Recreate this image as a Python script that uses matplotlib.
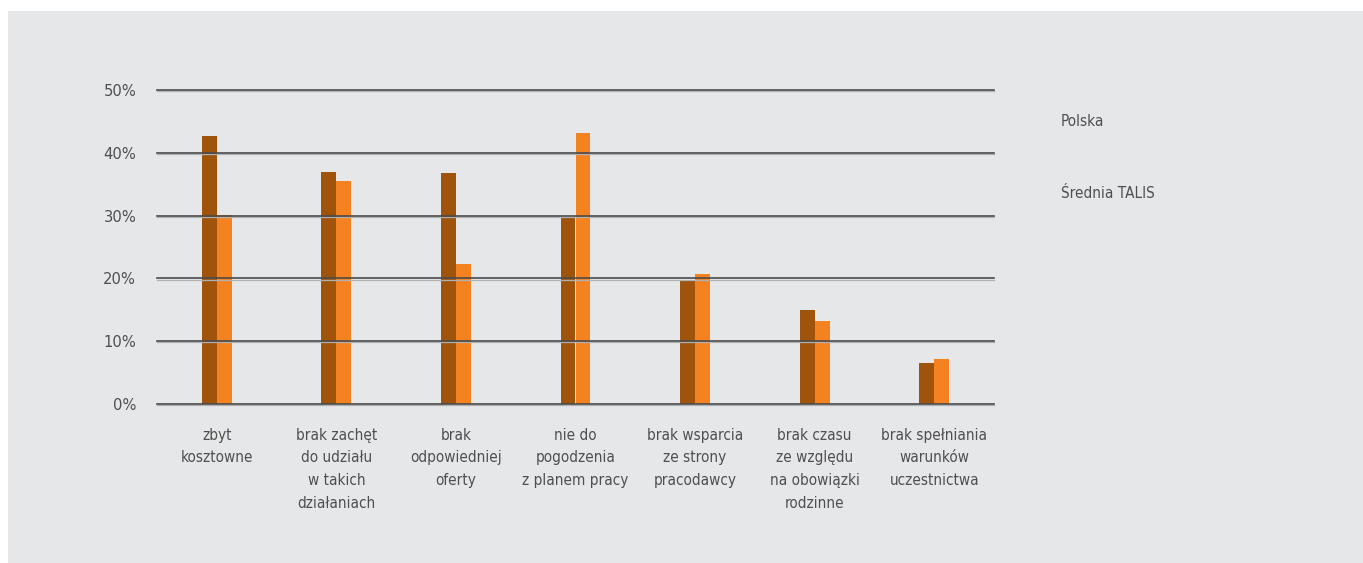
import matplotlib
matplotlib.use("Agg")
import matplotlib.pyplot as plt
from matplotlib import font_manager
from matplotlib.patches import Rectangle

categories = [
    "zbyt\nkosztowne",
    "brak zachęt\ndo udziału\nw takich\ndziałaniach",
    "brak\nodpowiedniej\noferty",
    "nie do\npogodzenia\nz planem pracy",
    "brak wsparcia\nze strony\npracodawcy",
    "brak czasu\nze względu\nna obowiązki\nrodzinne",
    "brak spełniania\nwarunków\nuczestnictwa",
]
series_names = ["Polska", "Średnia TALIS"]
polska = [42.7, 36.9, 36.8, 29.6, 19.7, 15.0, 6.5]
talis = [30.1, 35.5, 22.3, 43.2, 20.7, 13.2, 7.2]
y_ticks = [0, 10, 20, 30, 40, 50]
y_tick_labels = ["0%", "10%", "20%", "30%", "40%", "50%"]

# pick a narrow face if one is installed
fonts = font_manager.fontManager.ttflist
narrow = [f for f in fonts if ("Narrow" in f.name or "Condensed" in f.name
                               or f.stretch in ("condensed", "semi-condensed"))
          and f.style == "normal" and f.weight in (400, "normal", "regular")]
if narrow:
    fp = font_manager.FontProperties(fname=narrow[0].fname)
    size, tick_size = 11, 11.8
else:
    fp = font_manager.FontProperties(family="Liberation Sans")
    size, tick_size = 10, 11

text_color = "#4f4f4f"
bg = "#e6e7e9"
dark = "#a0530a"
orange = "#f58220"

W, H = 1363, 563
fig = plt.figure(figsize=(W / 100, H / 100), dpi=100, facecolor="white")
fig.patches.append(Rectangle((8 / W, 0), 1 - 8 / W, 1 - 11 / H,
                             transform=fig.transFigure, facecolor=bg,
                             edgecolor="none", zorder=-10))

ax = fig.add_axes([157 / W, 1 - 404 / H, (994 - 157) / W, (404 - 90) / H])
ax.set_facecolor("none")

x = list(range(len(categories)))
bw = 0.125
ax.bar([i - bw / 2 for i in x], polska, width=bw, color=dark, zorder=2)
ax.bar([i + bw / 2 for i in x], talis, width=bw, color=orange, zorder=2)

for t in y_ticks:
    ax.axhline(t - 0.2, color="#b0b1b3", lw=0.9, zorder=3, clip_on=False)
    ax.axhline(t, color="#4a4a4a", lw=1.2, zorder=4, clip_on=False)

ax.set_xlim(-0.5, len(categories) - 0.5)
ax.set_ylim(0, 50)
ax.set_yticks(y_ticks)
ax.set_yticklabels(y_tick_labels, fontproperties=fp, fontsize=tick_size)
ax.set_xticks(x)
ax.set_xticklabels(categories, linespacing=1.65, fontproperties=fp, fontsize=size)
ax.tick_params(axis="y", length=0, pad=15, labelcolor=text_color)
ax.tick_params(axis="x", length=0, pad=17, labelcolor=text_color)
for s in ax.spines.values():
    s.set_visible(False)

fig.text(1061 / W, 1 - 122 / H, series_names[0], fontproperties=fp, fontsize=size,
         color=text_color, va="center", ha="left")
fig.text(1061 / W, 1 - 193 / H, series_names[1], fontproperties=fp, fontsize=size,
         color=text_color, va="center", ha="left")

fig.savefig("out.png", dpi=100, facecolor="white")
